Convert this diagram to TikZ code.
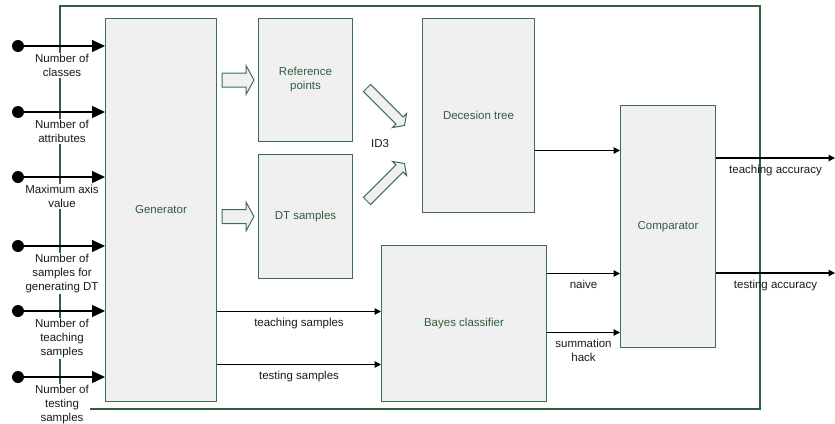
\documentclass[tikz,border=0pt]{standalone}
\usepackage{fontspec}
\setmainfont{Liberation Sans}
\usetikzlibrary{arrows.meta,calc}
\definecolor{frm}{HTML}{2F5F3C}
\definecolor{bxd}{HTML}{3E6E4E}
\definecolor{bxf}{HTML}{F0F0F0}
\definecolor{bxt}{HTML}{2E5E3E}
\definecolor{txt}{HTML}{1A1A1A}
\begin{document}
\begin{tikzpicture}[x=1pt,y=-1pt,
  every node/.style={font=\fontsize{11.5}{14}\selectfont},
  box/.style={draw=bxd, fill=bxf, line width=1pt, text=bxt, anchor=north west, inner sep=0pt, align=center},
  frame/.style={draw=frm, line width=1.1pt},
  dotnode/.style={circle, fill=black, inner sep=0pt, minimum size=12pt},
  inarr/.style={line width=1.3pt, -{Triangle[length=13pt,width=12pt]}},
  arr/.style={line width=1.1pt, -{Triangle[length=6.5pt,width=6.5pt]}},
  inlbl/.style={anchor=north, fill=white, inner sep=1.5pt, align=center, text=txt},
  lbl/.style={below=5pt, inner sep=1.5pt, align=center, text=txt},
  barr/.style={draw=bxd, fill=bxf, line width=1pt, line join=miter},
  harrow/.pic={\draw[barr] (0,-7) -- (24,-7) -- (24,-14.5) -- (32,0) -- (24,14.5) -- (24,7) -- (0,7) -- cycle;},
  darrow/.pic={\draw[barr] (0,-5) -- (46,-5) -- (46,-10) -- (53,0) -- (46,10) -- (46,5) -- (0,5) -- cycle;}
]
\useasboundingbox (0,0) rectangle (835,423);

% outer frame
\draw[frame] (60,6) rectangle (760,409);

% boxes
\node[box, minimum width=111pt, minimum height=383pt] (gen) at (105,18) {Generator};
\node[box, minimum width=94pt, minimum height=123pt] (ref) at (258,18) {Reference\\points};
\node[box, minimum width=94pt, minimum height=124pt] (dts) at (258,154) {DT samples};
\node[box, minimum width=112pt, minimum height=194pt] (dt) at (422,18) {Decesion tree};
\node[box, minimum width=165pt, minimum height=156pt] (bay) at (381,245) {Bayes classifier};
\node[box, minimum width=95pt, minimum height=242pt] (cmp) at (620,105) {Comparator};

% input labels
\node[inlbl] (l1) at (62,52.5) {Number of\\classes};
\node[inlbl] (l2) at (62,118.5) {Number of\\attributes};
\node[inlbl] (l3) at (62,183.5) {Maximum axis\\value};
\node[inlbl] (l4) at (62,252.5) {Number of\\samples for\\generating DT};
\node[inlbl] (l5) at (62,317.5) {Number of\\teaching\\samples};
\node[inlbl] (l6) at (62,383.5) {Number of\\testing\\samples};

% inputs
\node[dotnode] (d1) at (18,46) {};
\node[dotnode] (d2) at (18,112) {};
\node[dotnode] (d3) at (18,177) {};
\node[dotnode] (d4) at (18,246) {};
\node[dotnode] (d5) at (18,311) {};
\node[dotnode] (d6) at (18,377) {};
\foreach \i in {1,...,6}{\draw[inarr] (d\i.center) -- (d\i -| gen.west);}

% block arrows
\pic at ([xshift=5pt]gen.east |- ref.west) {harrow};
\pic at ([xshift=5pt]gen.east |- dts.west) {harrow};
\pic[rotate=-45] at (367,88) {darrow};
\pic[rotate=45] at (367,201) {darrow};
\node[text=txt] (id3) at (380,144) {ID3};

% connectors
\coordinate (dtout) at ([yshift=-35pt]dt.east);
\draw[arr] (dtout) -- (dtout -| cmp.west);

\coordinate (bt) at ([yshift=12pt]bay.west);
\coordinate (bs) at ([yshift=-41pt]bay.west);
\draw[arr] (gen.east |- bt) -- node[lbl] {teaching samples} (bt);
\draw[arr] (gen.east |- bs) -- node[lbl] {testing samples} (bs);

\coordinate (cn) at ([yshift=-47pt]cmp.west);
\coordinate (ch) at ([yshift=-106pt]cmp.west);
\draw[arr] (bay.east |- cn) -- node[lbl] {naive} (cn);
\draw[arr] (bay.east |- ch) -- node[lbl] {summation\\hack} (ch);

\coordinate (ot) at (835,158);
\coordinate (os) at (835,273);
\draw[arr] (cmp.east |- ot) -- node[lbl] {teaching accuracy} (ot);
\draw[arr] (cmp.east |- os) -- node[lbl] {testing accuracy} (os);
\end{tikzpicture}
\end{document}
